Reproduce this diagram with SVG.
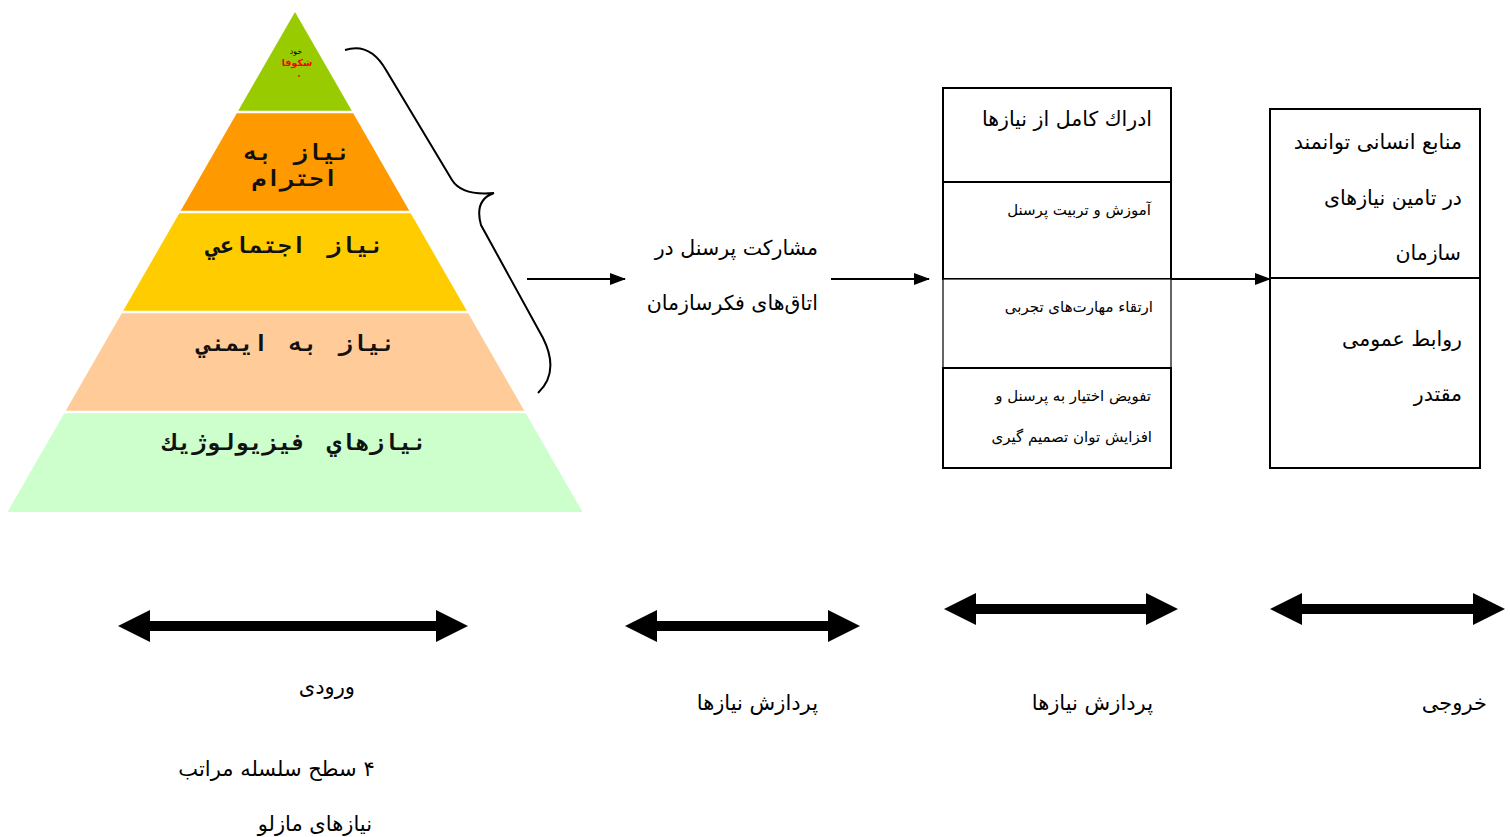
<svg xmlns="http://www.w3.org/2000/svg" width="1510" height="837" viewBox="0 0 1510 837">
<defs>
<style>
.fa{font-family:"DejaVu Sans","Noto Sans",sans-serif;fill:#000;}
.py{font-family:"DejaVu Sans Mono","DejaVu Sans",monospace;font-weight:bold;font-size:22px;letter-spacing:8px;word-spacing:6px;fill:#111;}
.t20{font-size:20.5px;}
.t16{font-size:15px;}
.box{fill:#fff;stroke:#000;stroke-width:2;}
.thin{fill:#fff;stroke:#000;stroke-width:1.2;}
.ln{stroke:#000;stroke-width:2;fill:none;}
.dbl{fill:#000;}
</style>
<marker id="ah" markerWidth="16" markerHeight="12" refX="15" refY="6" orient="auto" markerUnits="userSpaceOnUse">
<path d="M0,0 L16,6 L0,12 Z" fill="#000"/>
</marker>
</defs>
<rect width="1510" height="837" fill="#fff"/>

<g id="pyramid">
<polygon points="295,12 352.5,112 237.5,112" fill="#99CC00"/>
<polygon points="237.5,112 352.5,112 410,212 180,212" fill="#FF9900"/>
<polygon points="180,212 410,212 467.5,312 122.5,312" fill="#FFCC00"/>
<polygon points="122.5,312 467.5,312 525,412 65,412" fill="#FFCC99"/>
<polygon points="65,412 525,412 582.5,512 7.5,512" fill="#CCFFCC"/>
<g stroke="#fff" stroke-width="2.5">
<line x1="237" y1="112" x2="353" y2="112"/>
<line x1="179" y1="212" x2="411" y2="212"/>
<line x1="122" y1="312" x2="468" y2="312"/>
<line x1="64" y1="412" x2="526" y2="412"/>
</g>
<text x="296" y="54" text-anchor="middle" style="font-family:'DejaVu Sans',sans-serif;font-size:8px;fill:#000;letter-spacing:1px">خود</text>
<text x="297" y="66" text-anchor="middle" style="font-family:'DejaVu Sans',sans-serif;font-size:9.5px;font-weight:bold;fill:#FF0000;letter-spacing:0.5px">شکوفا</text>
<circle cx="299" cy="76" r="0.9" fill="#FF0000"/>
<g transform="translate(296,0) scale(1.08,1) translate(-296,0)">
<text class="py" x="297" y="160" text-anchor="middle">نياز به</text>
<text class="py" x="295" y="186" text-anchor="middle">احترام</text>
<text class="py" x="295" y="253" text-anchor="middle">نياز اجتماعي</text>
<text class="py" x="296" y="351" text-anchor="middle">نياز به ايمني</text>
<text class="py" x="295" y="450" text-anchor="middle">نيازهاي فيزيولوژيك</text>
</g>
</g>

<g id="brace">
<path class="ln" d="M345,50 Q370,42 386,70 L452,180 Q462,196 494,193 Q474,200 481,225 L543,338 Q560,372 538,393" stroke-width="1.8"/>
</g>

<g id="participation">
<text class="fa t20" x="818" y="255" text-anchor="end">مشارکت پرسنل در</text>
<text class="fa t20" x="818" y="310" text-anchor="end">اتاق‌های فکرسازمان</text>
</g>

<g id="processing-box">
<rect class="box" x="943" y="88" width="228" height="94"/>
<rect class="box" x="943" y="182" width="228" height="97"/>
<rect class="thin" x="943" y="279" width="228" height="89"/>
<rect class="box" x="943" y="368" width="228" height="100"/>
<text class="fa" style="font-size:20.5px" x="1152" y="126" text-anchor="end">ادراك كامل از نيازها</text>
<text class="fa t16" x="1151" y="215" text-anchor="end">آموزش و تربیت پرسنل</text>
<text class="fa t16" x="1153" y="312" text-anchor="end">ارتقاء   مهارت‌های تجربی</text>
<text class="fa t16" x="1151" y="401" text-anchor="end">تفویض اختیار به پرسنل و</text>
<text class="fa t16" x="1152" y="442" text-anchor="end">افزایش توان تصمیم گیری</text>
</g>

<g id="output-box">
<rect class="box" x="1270" y="109" width="210" height="359"/>
<line class="ln" x1="1270" y1="278" x2="1480" y2="278"/>
<text class="fa t20" x="1462" y="149" text-anchor="end">منابع انسانی توانمند</text>
<text class="fa t20" x="1462" y="205" text-anchor="end">در تامین نیازهای</text>
<text class="fa t20" x="1461" y="260" text-anchor="end">سازمان</text>
<text class="fa t20" x="1462" y="346" text-anchor="end">روابط عمومی</text>
<text class="fa t20" x="1462" y="401" text-anchor="end">مقتدر</text>
</g>

<g id="connectors">
<line class="ln" x1="527" y1="279" x2="625" y2="279" marker-end="url(#ah)"/>
<line class="ln" x1="831" y1="279" x2="929" y2="279" marker-end="url(#ah)"/>
<line class="ln" x1="1172" y1="279" x2="1270" y2="279" marker-end="url(#ah)"/>
<polygon class="dbl" points="118,626 150,610 150,621 436,621 436,610 468,626 436,642 436,631 150,631 150,642"/>
<polygon class="dbl" points="625,626 657,610 657,621 828,621 828,610 860,626 828,642 828,631 657,631 657,642"/>
<polygon class="dbl" points="944,609 976,593 976,604 1146,604 1146,593 1178,609 1146,625 1146,614 976,614 976,625"/>
<polygon class="dbl" points="1270,609 1302,593 1302,604 1473,604 1473,593 1505,609 1473,625 1473,614 1302,614 1302,625"/>
</g>

<g id="labels">
<text class="fa" style="font-size:21px" x="355" y="694" text-anchor="end">ورودی</text>
<text class="fa" style="font-size:21px" x="818" y="710" text-anchor="end">پردازش نیازها</text>
<text class="fa" style="font-size:21px" x="1153" y="710" text-anchor="end">پردازش نیازها</text>
<text class="fa" style="font-size:21px" x="1487" y="710" text-anchor="end">خروجی</text>
<text class="fa" style="font-size:21px" x="276.5" y="776" text-anchor="middle" direction="rtl" unicode-bidi="embed">۴ سطح سلسله مراتب</text>
<text class="fa" style="font-size:21px" x="372" y="831" text-anchor="end">نیازهای مازلو</text>
</g>
</svg>
